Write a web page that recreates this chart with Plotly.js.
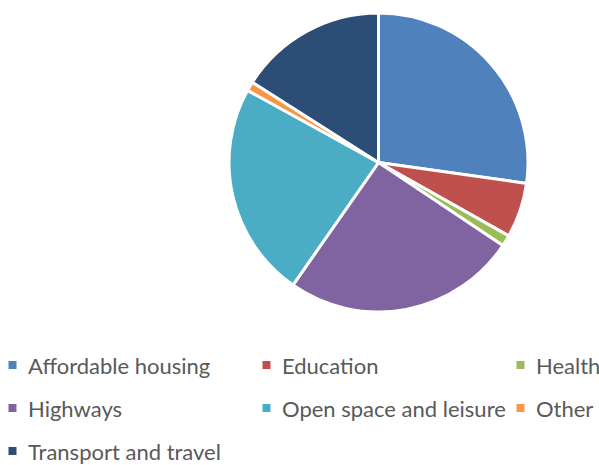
<!DOCTYPE html>
<html>
<head>
<meta charset="utf-8">
<script src="https://cdn.plot.ly/plotly-3.0.1.min.js"></script>
<style>html,body{margin:0;padding:0;background:#fff;overflow:hidden;}#chart{width:599px;height:465px;}</style>
</head>
<body>
<div id="chart"></div>
<script>
const categories = ["Affordable housing", "Education", "Health", "Highways", "Open space and leisure", "Other", "Transport and travel"];
const values = [27.1, 5.9, 1.2, 25.2, 23.2, 1.0, 15.9];
const colors = ["#4F81BD", "#C0504D", "#9BBB59", "#8064A2", "#4BACC6", "#F79646", "#2C4D75"];

const W = 599, H = 465;
const data = [{
  type: "pie",
  labels: categories,
  values: values,
  sort: false,
  direction: "clockwise",
  rotation: 0,
  textinfo: "none",
  hoverinfo: "none",
  marker: {colors: colors, line: {color: "#ffffff", width: 3}},
  domain: {x: [229 / W, 528 / W], y: [1 - 312 / H, 1 - 13 / H]}
}];

// Legend laid out as a 3-column grid below the pie
const legendCols = 3, colStep = 254, rowStep = 43, x0 = 12.5, y0 = 365, box = 8, gap = 14;
const shapes = [], annotations = [];
categories.forEach(function (name, i) {
  const cx = x0 + colStep * (i % legendCols);
  const cy = y0 + rowStep * Math.floor(i / legendCols);
  shapes.push({
    type: "rect", xref: "paper", yref: "paper",
    x0: (cx - box / 2) / W, x1: (cx + box / 2) / W,
    y0: 1 - (cy + box / 2) / H, y1: 1 - (cy - box / 2) / H,
    fillcolor: colors[i], line: {width: 0}
  });
  annotations.push({
    xref: "paper", yref: "paper",
    x: (cx + gap) / W, y: 1 - cy / H,
    xanchor: "left", yanchor: "middle",
    text: name, showarrow: false, borderpad: 0,
    font: {family: "Lato, 'Open Sans', sans-serif", size: 22, color: "#595959"}
  });
});

const layout = {
  width: W, height: H,
  margin: {l: 0, r: 0, t: 0, b: 0},
  paper_bgcolor: "#ffffff",
  showlegend: false,
  shapes: shapes,
  annotations: annotations
};

Plotly.newPlot("chart", data, layout, {staticPlot: true, displayModeBar: false});
</script>
</body>
</html>
